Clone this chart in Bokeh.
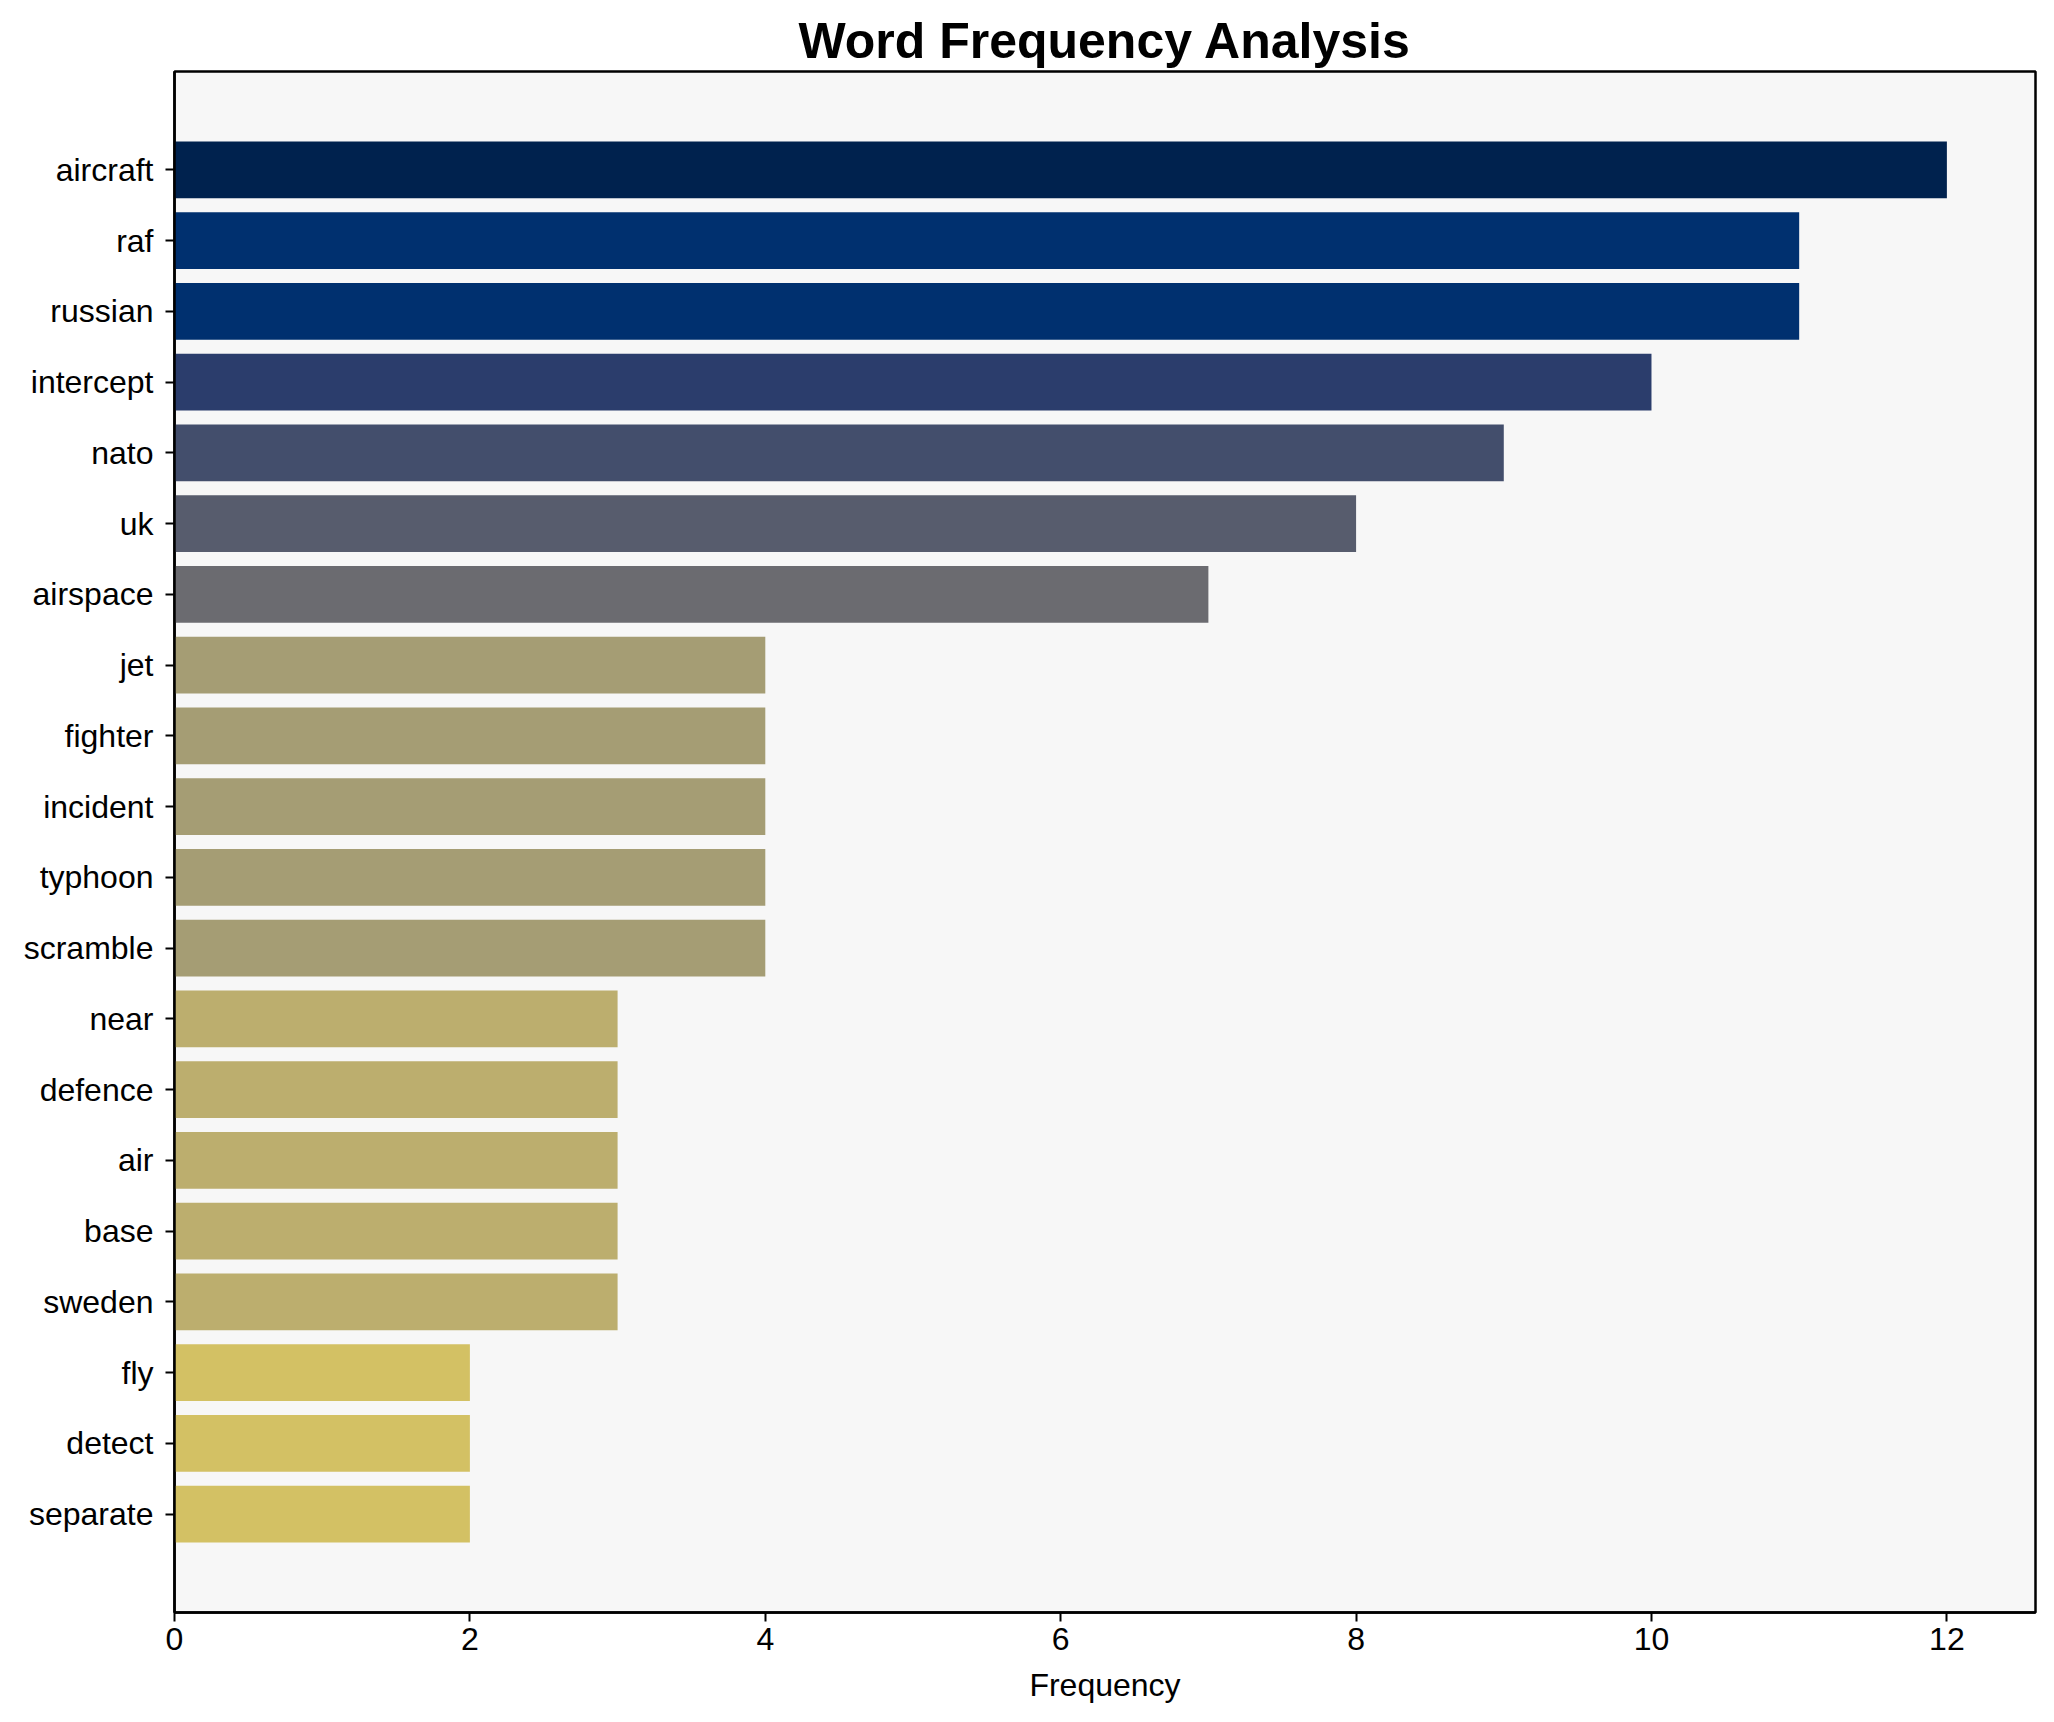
from bokeh.plotting import figure
from bokeh.models import Range1d, FixedTicker
from bokeh.embed import file_html
from bokeh.resources import INLINE

# ---- data ----
words = ["aircraft", "raf", "russian", "intercept", "nato", "uk", "airspace",
         "jet", "fighter", "incident", "typhoon", "scramble", "near", "defence",
         "air", "base", "sweden", "fly", "detect", "separate"]
freqs = [12, 11, 11, 10, 9, 8, 7, 4, 4, 4, 4, 4, 3, 3, 3, 3, 3, 2, 2, 2]
x_ticks = [0, 2, 4, 6, 8, 10, 12]

# ---- style: colour per frequency (cividis-like) ----
color_for = {12: "#00224e", 11: "#00306f", 10: "#2b3d6c", 9: "#434e6c",
             8: "#575c6d", 7: "#6b6b70", 4: "#a59d74", 3: "#bcae6e", 2: "#d3c164"}
colors = [color_for[f] for f in freqs]

n = len(words)
ys = list(range(n))
FONT = "Liberation Sans"
x_max = max(freqs) * 1.05

p = figure(width=2038, height=1706, output_backend="svg", toolbar_location=None,
           x_range=Range1d(0, x_max),
           y_range=Range1d(n - 1 + 1.39, -1.39),
           min_border_left=174, min_border_right=3,
           min_border_top=71, min_border_bottom=94)

p.hbar(y=ys, left=0, right=freqs, height=0.8, fill_color=colors, line_color=None)

p.title.text = "Word Frequency Analysis"
p.title.align = "center"
p.title.text_font = FONT
p.title.text_font_style = "bold"
p.title.text_font_size = "50px"
p.title.text_color = "black"
p.title.standoff = 6

p.background_fill_color = "#f7f7f7"
p.border_fill_color = "white"
p.outline_line_color = "black"
p.outline_line_width = 2.5
p.xgrid.visible = False
p.ygrid.visible = False

for ax in (p.xaxis[0], p.yaxis[0]):
    ax.axis_line_color = "black"
    ax.axis_line_width = 2.5
    ax.major_tick_line_color = "black"
    ax.major_tick_line_width = 2
    ax.major_tick_out = 9
    ax.major_tick_in = 0
    ax.minor_tick_line_color = None
    ax.major_label_text_font = FONT
    ax.major_label_text_font_size = "32px"
    ax.major_label_text_color = "black"

p.xaxis.ticker = FixedTicker(ticks=x_ticks)
p.xaxis.major_label_standoff = 6
p.xaxis.axis_label = "Frequency"
p.xaxis.axis_label_text_font = FONT
p.xaxis.axis_label_text_font_size = "32px"
p.xaxis.axis_label_text_font_style = "normal"
p.xaxis.axis_label_text_color = "black"
p.xaxis.axis_label_standoff = 14

p.yaxis.ticker = FixedTicker(ticks=ys)
p.yaxis.major_label_overrides = {i: w for i, w in enumerate(words)}
p.yaxis.major_label_standoff = 12

open("out.html", "w").write(file_html(p, INLINE))
